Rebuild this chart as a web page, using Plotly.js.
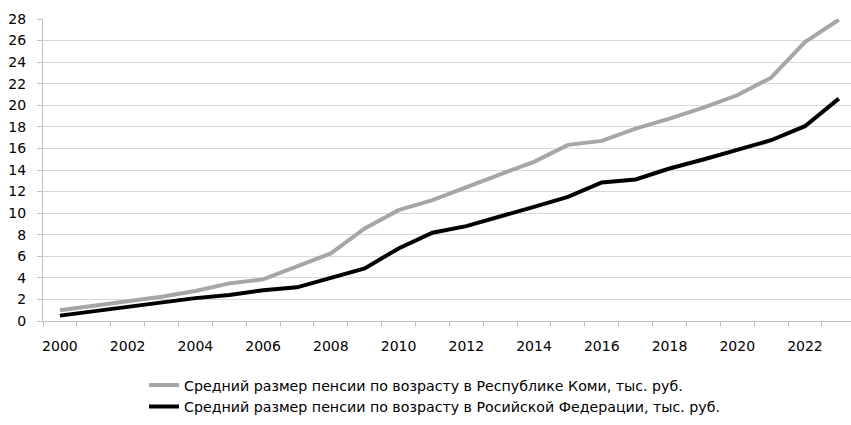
<!DOCTYPE html>
<html>
<head>
<meta charset="utf-8">
<script src="https://cdn.plot.ly/plotly-3.0.1.min.js"></script>
<style>html,body{margin:0;padding:0;background:#fff;}</style>
</head>
<body>
<div id="chart" style="width:851px;height:425px;"></div>
<script>
const years = [2000,2001,2002,2003,2004,2005,2006,2007,2008,2009,2010,2011,2012,2013,2014,2015,2016,2017,2018,2019,2020,2021,2022,2023];
const komi = [0.99,1.40,1.85,2.25,2.78,3.49,3.86,5.03,6.27,8.58,10.28,11.20,12.44,13.60,14.75,16.33,16.70,17.84,18.77,19.78,20.93,22.56,25.86,27.93];
const rf = [0.50,0.92,1.34,1.78,2.12,2.42,2.86,3.12,4.01,4.88,6.73,8.18,8.80,9.66,10.58,11.51,12.84,13.12,14.14,14.97,15.83,16.76,18.06,20.62];
const nameKomi = 'Средний размер пенсии по возрасту в Республике Коми, тыс. руб.';
const nameRf = 'Средний размер пенсии по возрасту в Росийской Федерации, тыс. руб.';
const xTickVals = [2000,2002,2004,2006,2008,2010,2012,2014,2016,2018,2020,2022];

const font = {family: 'DejaVu Sans, sans-serif', size: 14, color: '#000'};
const legendFont = {family: 'DejaVu Sans, sans-serif', size: 14.2, color: '#000'};

const data = [
  {x: years, y: komi, name: nameKomi, type: 'scatter', mode: 'lines',
   line: {color: '#a6a6a6', width: 4}},
  {x: years, y: rf, name: nameRf, type: 'scatter', mode: 'lines',
   line: {color: '#000000', width: 4}}
];

const layout = {
  width: 851, height: 425,
  margin: {l: 43, r: 0, t: 19, b: 104},
  paper_bgcolor: '#fff', plot_bgcolor: '#fff',
  font: font,
  showlegend: true,
  legend: {orientation: 'v', x: 0.125, xanchor: 'left', y: -0.16, yanchor: 'top',
           font: legendFont, bgcolor: 'rgba(0,0,0,0)', tracegroupgap: 0},
  xaxis: {
    range: [1999.5, 2023.36], tickmode: 'array', tickvals: xTickVals,
    ticktext: xTickVals.map(String), ticks: '', showgrid: false, zeroline: false,
    showline: true, linecolor: '#bfbfbf', linewidth: 1, ticklabelstandoff: 12,
    minor: {tickmode: 'linear', tick0: 1999.5, dtick: 1, ticks: 'outside', ticklen: 5,
            tickcolor: '#bfbfbf', tickwidth: 1, showgrid: false},
    tickfont: font, fixedrange: true
  },
  yaxis: {
    range: [0, 28], dtick: 2, tick0: 0, ticks: 'outside', ticklen: 5,
    tickcolor: '#bfbfbf', showline: true, linecolor: '#bfbfbf', linewidth: 1,
    showgrid: true, gridcolor: '#d9d9d9', gridwidth: 1, zeroline: false,
    ticklabelstandoff: 8,
    tickfont: font, fixedrange: true
  }
};

Plotly.newPlot('chart', data, layout, {displayModeBar: false, staticPlot: true});
</script>
</body>
</html>
